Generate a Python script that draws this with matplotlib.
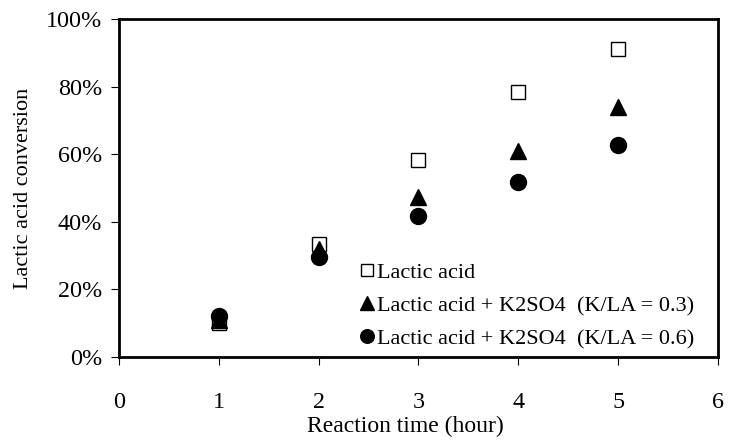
import matplotlib
matplotlib.use("Agg")
from matplotlib import pyplot as plt
from matplotlib.ticker import PercentFormatter

plt.rcParams['font.family'] = ['Liberation Serif', 'DejaVu Serif']

# reaction time (hour)
hours = [1, 2, 3, 4, 5]
# conversion in %
lactic_acid = [10.1, 33.4, 58.3, 78.4, 91.1]
k2so4_03 = [11.0, 32.0, 47.4, 61.0, 74.0]
k2so4_06 = [12.0, 29.6, 41.7, 51.7, 62.7]

labels = ['Lactic acid',
          'Lactic acid + K2SO4  (K/LA = 0.3)',
          'Lactic acid + K2SO4  (K/LA = 0.6)']

fig, ax = plt.subplots(figsize=(7.29, 4.4), dpi=100)
fig.subplots_adjust(left=0.163, right=0.985, top=0.957, bottom=0.189)

ax.plot(hours, lactic_acid, 's', ms=10.5, mfc='white', mec='black', mew=1.0, label=labels[0])
ax.plot(hours, k2so4_03, '^', ms=11.5, color='black', label=labels[1])
ax.plot(hours, k2so4_06, 'o', ms=11.5, color='black', label=labels[2])

ax.set_xlim(0, 6)
ax.set_ylim(0, 100)
ax.set_xticks(range(0, 7))
ax.set_yticks(range(0, 101, 20))
ax.yaxis.set_major_formatter(PercentFormatter(decimals=0))
ax.tick_params(direction='out', length=6, width=0.8, labelsize=17.4, colors='black')
ax.tick_params(axis='x', pad=19)
ax.tick_params(axis='y', pad=6)
for sp in ax.spines.values():
    sp.set_linewidth(2)

ax.set_xlabel('Reaction time (hour)', fontsize=17)
ax.xaxis.set_label_coords(0.479, -0.175)
ax.set_ylabel('Lactic acid conversion', fontsize=16)
ax.yaxis.set_label_coords(-0.143, 0.5)

ax.legend(loc='lower left', frameon=False, fontsize=16, handlelength=0.6,
          handletextpad=0.15, markerscale=0.85, labelspacing=0.56,
          borderaxespad=0.0, borderpad=0.0, bbox_to_anchor=(0.403, 0.023))

plt.savefig('out.png', dpi=100)
